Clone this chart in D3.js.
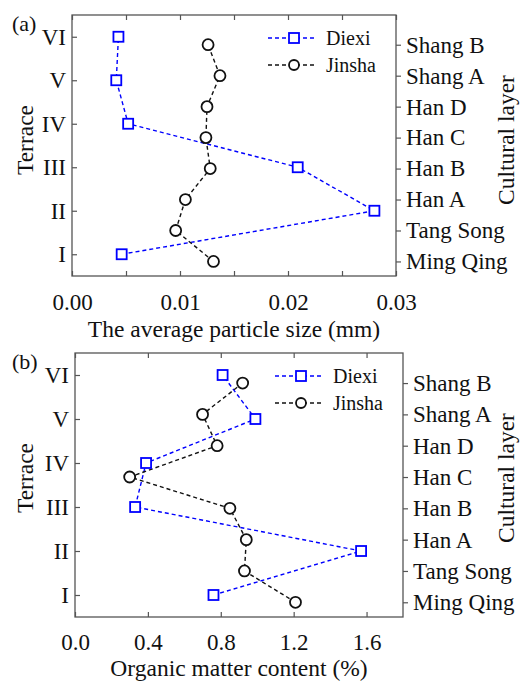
<!DOCTYPE html>
<html>
<head>
<meta charset="utf-8">
<script src="https://cdn.jsdelivr.net/npm/d3@7"></script>
<style>
  body { margin: 0; background: #fff; }
  svg { display: block; font-family: "Liberation Serif", "Times New Roman", serif; }
  .axis text { fill: #111; font-size: 23px; font-family: "Liberation Serif", "Times New Roman", serif; }
  .axis line { stroke: #555; stroke-width: 1.2; }
</style>
</head>
<body>
<svg id="chart"></svg>
<script>
const w = 524, h = 683,
  blue = "#0000ff", black = "#111";

const terraces = ["I", "II", "III", "IV", "V", "VI"];
const layers = ["Ming Qing", "Tang Song", "Han A", "Han B", "Han C", "Han D", "Shang A", "Shang B"];
const series = ["Diexi", "Jinsha"];

// (a) average particle size, mm
const diexiSize = [0.0046, 0.0280, 0.0209, 0.0052, 0.0041, 0.0043];
const jinshaSize = [0.0131, 0.0096, 0.0105, 0.0128, 0.0124, 0.0125, 0.0137, 0.0126];
const sizeTicks = [0, 0.005, 0.01, 0.015, 0.02, 0.025, 0.03];

// (b) organic matter content, %
const diexiOrganic = [0.76, 1.57, 0.33, 0.39, 0.99, 0.81];
const jinshaOrganic = [1.21, 0.93, 0.94, 0.85, 0.30, 0.78, 0.70, 0.92];
const organicTicks = [0, 0.4, 0.8, 1.2, 1.6];

const svg = d3.select("#chart")
  .attr("width", w)
  .attr("height", h)
  .attr("viewBox", [0, 0, w, h]);

const panels = [
  { tag: "(a)", box: { l: 72, r: 396, t: 15, b: 276 }, xDomain: [0, 0.03], ticks: sizeTicks,
    fmt: d => (Math.round(d * 1000) % 10 === 0 ? d3.format(".2f")(d) : ""),
    diexi: diexiSize, jinsha: jinshaSize, xTitle: "The average particle size (mm)",
    labelPad: 18, titleY: 337, midY: 140 },
  { tag: "(b)", box: { l: 75, r: 403, t: 353, b: 617 }, xDomain: [0, 1.8], ticks: organicTicks,
    fmt: d3.format(".1f"),
    diexi: diexiOrganic, jinsha: jinshaOrganic, xTitle: "Organic matter content (%)",
    labelPad: 17, titleY: 676, midY: 478 }
];

const drawPanel = p => {
  const { l, r, t, b } = p.box;
  const g = svg.append("g");

  const x = d3.scaleLinear().domain(p.xDomain).range([l, r]);
  const yT = d3.scaleLinear().domain([0.5, 6.5]).range([b, t]);
  const yL = d3.scaleLinear().domain([0.53, 8.96]).range([b, t]);

  g.append("rect")
    .attr("x", l).attr("y", t)
    .attr("width", r - l).attr("height", b - t)
    .attr("fill", "none").attr("stroke", "#555").attr("stroke-width", 1.3);

  const clean = a => a.attr("font-family", null).attr("font-size", null)
    .call(s => s.select(".domain").remove());

  g.append("g").attr("class", "axis")
    .attr("transform", `translate(0,${b})`)
    .call(d3.axisBottom(x).tickValues(p.ticks).tickFormat(p.fmt).tickSize(-5).tickPadding(p.labelPad))
    .call(clean);

  g.append("g").attr("class", "axis")
    .attr("transform", `translate(0,${t})`)
    .call(d3.axisTop(x).tickValues(p.ticks).tickFormat("").tickSize(-5))
    .call(clean);

  g.append("g").attr("class", "axis")
    .attr("transform", `translate(${l},0)`)
    .call(d3.axisLeft(yT).tickValues(d3.range(1, 7)).tickFormat(i => terraces[i - 1]).tickSize(-5).tickPadding(6))
    .call(clean);

  g.append("g").attr("class", "axis")
    .attr("transform", `translate(${r},0)`)
    .call(d3.axisRight(yL).tickValues(d3.range(1, 9)).tickFormat(i => layers[i - 1]).tickSize(5).tickPadding(5))
    .call(clean);

  // titles
  g.append("text")
    .attr("x", (l + r) / 2).attr("y", p.titleY)
    .attr("text-anchor", "middle").attr("font-size", 23.5).attr("fill", black)
    .text(p.xTitle);
  g.append("text")
    .attr("transform", `translate(33,${p.midY}) rotate(-90)`)
    .attr("text-anchor", "middle").attr("font-size", 23.5).attr("fill", black)
    .text("Terrace");
  g.append("text")
    .attr("transform", `translate(514,${p.midY}) rotate(-90)`)
    .attr("text-anchor", "middle").attr("font-size", 23.5).attr("fill", black)
    .text("Cultural layer");
  g.append("text")
    .attr("x", 12).attr("y", t + 16)
    .attr("font-size", 22).attr("fill", black)
    .text(p.tag);

  // series
  const dLine = d3.line().x(d => x(d)).y((d, i) => yT(i + 1));
  const jLine = d3.line().x(d => x(d)).y((d, i) => yL(i + 1));

  g.append("path").attr("d", dLine(p.diexi))
    .attr("fill", "none").attr("stroke", blue).attr("stroke-width", 1.4).attr("stroke-dasharray", "4,3");
  g.append("path").attr("d", jLine(p.jinsha))
    .attr("fill", "none").attr("stroke", black).attr("stroke-width", 1.4).attr("stroke-dasharray", "4,3");

  g.append("g").selectAll("rect")
    .data(p.diexi).join("rect")
    .attr("x", d => x(d) - 5).attr("y", (d, i) => yT(i + 1) - 5)
    .attr("width", 10).attr("height", 10)
    .attr("fill", "white").attr("stroke", blue).attr("stroke-width", 1.8);
  g.append("g").selectAll("circle")
    .data(p.jinsha).join("circle")
    .attr("cx", d => x(d)).attr("cy", (d, i) => yL(i + 1))
    .attr("r", 5.5)
    .attr("fill", "white").attr("stroke", black).attr("stroke-width", 1.8);

  // legend
  const lg = g.append("g").attr("transform", `translate(${r - 128},${t + 23})`);
  series.forEach((s, i) => {
    const row = lg.append("g").attr("transform", `translate(0,${i * 27})`);
    const c = i === 0 ? blue : black;
    row.append("line").attr("x1", 0).attr("x2", 47)
      .attr("stroke", c).attr("stroke-width", 1.4).attr("stroke-dasharray", "4,3");
    if (i === 0) {
      row.append("rect").attr("x", 21).attr("y", -5).attr("width", 10).attr("height", 10)
        .attr("fill", "white").attr("stroke", c).attr("stroke-width", 1.8);
    } else {
      row.append("circle").attr("cx", 26).attr("r", 5)
        .attr("fill", "white").attr("stroke", c).attr("stroke-width", 1.8);
    }
    row.append("text").attr("x", 58).attr("y", 7)
      .attr("font-size", 20).attr("fill", black).text(s);
  });
};

panels.forEach(drawPanel);
</script>
</body>
</html>
